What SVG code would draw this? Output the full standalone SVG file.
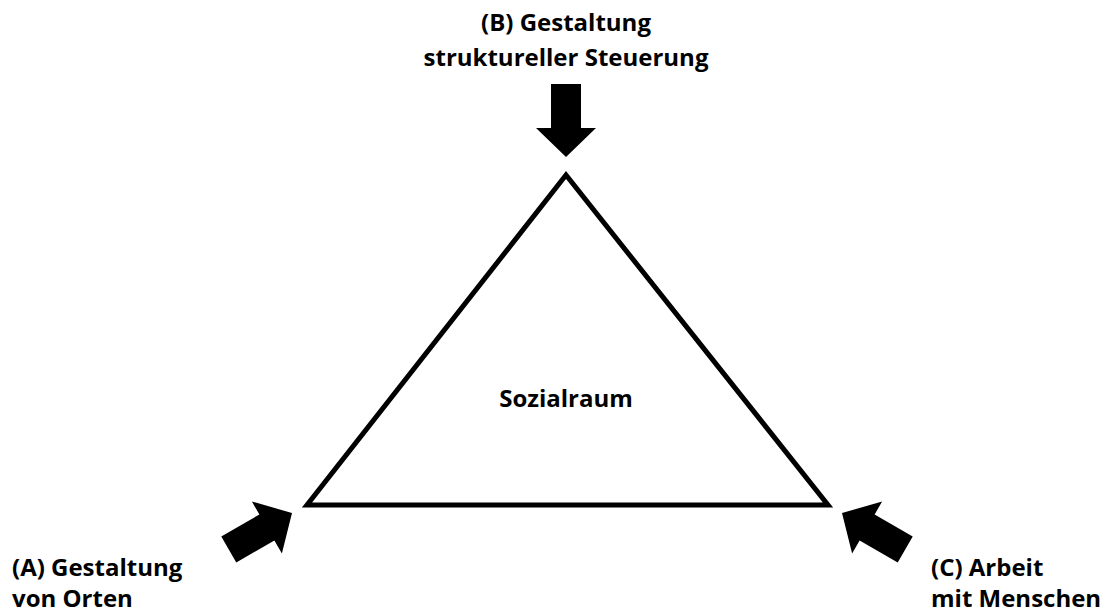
<svg xmlns="http://www.w3.org/2000/svg" xmlns:xlink="http://www.w3.org/1999/xlink" width="1107" height="612" viewBox="0 0 1107 612">
<style>
.t{font-family:"Open Sans","Liberation Sans",sans-serif;font-weight:bold;font-size:24px;fill:#000}
.arrow{fill:#000;stroke:none}
</style>
<defs>
<path id="arr" class="arrow" d="M-15,-73 L15,-73 L15,-29 L30,-29 L0,0 L-30,-29 L-15,-29 Z"/>
</defs>
<rect width="1107" height="612" fill="#fff"/>
<g id="sozialraum">
<polygon points="566,175 307,505 828,505" fill="none" stroke="#000" stroke-width="5" stroke-linejoin="miter"/>
<text class="t" x="566" y="407" text-anchor="middle">Sozialraum</text>
</g>
<g id="connectors">
<use xlink:href="#arr" transform="translate(566,157)"/>
<use xlink:href="#arr" transform="translate(292,513) rotate(-120)"/>
<use xlink:href="#arr" transform="translate(842,513) rotate(120)"/>
</g>
<g id="nodeB">
<text class="t" x="566" y="31" text-anchor="middle">(B) Gestaltung</text>
<text class="t" x="566" y="66" text-anchor="middle">struktureller Steuerung</text>
</g>
<g id="nodeA">
<text class="t" x="12" y="576">(A) Gestaltung</text>
<text class="t" x="12" y="607">von Orten</text>
</g>
<g id="nodeC">
<text class="t" x="931" y="576">(C) Arbeit</text>
<text class="t" x="931" y="607">mit Menschen</text>
</g>
</svg>
